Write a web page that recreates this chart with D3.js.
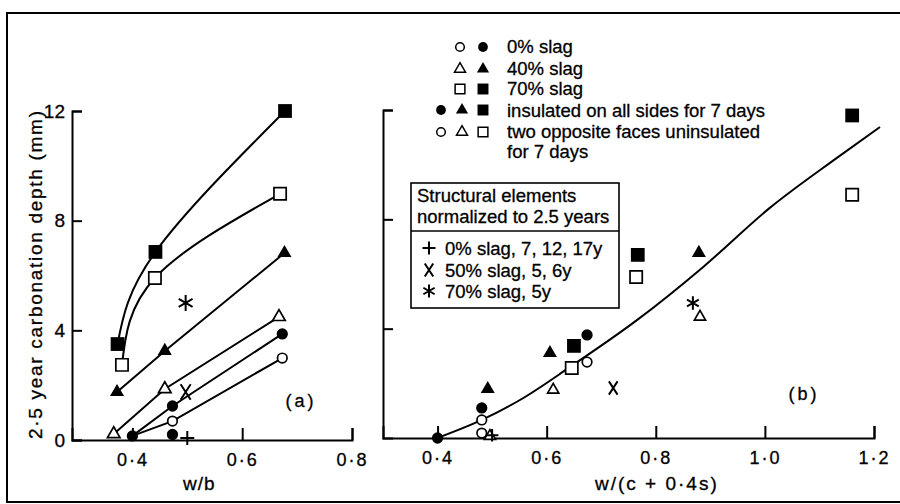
<!DOCTYPE html>
<html>
<head>
<meta charset="utf-8">
<script src="https://cdn.jsdelivr.net/npm/d3@7"></script>
<style>
  body { margin: 0; background: #fff; }
  svg { display: block; }
  text { font-family: "Liberation Sans", Arial, sans-serif; fill: #000; stroke: #000; stroke-width: 0.3px; }
</style>
</head>
<body>
<svg id="chart" width="900" height="504"></svg>
<script>
// ---------- Panel (a): 2.5-year carbonation depth (mm) against w/b ----------
const aSolidSquareX = [0.373, 0.442, 0.678];
const aSolidSquareY = [3.5, 6.86, 12.0];
const aOpenSquareX  = [0.381, 0.441, 0.669];
const aOpenSquareY  = [2.74, 5.91, 8.98];
const aSolidTriX    = [0.372, 0.459, 0.677];
const aSolidTriY    = [1.75, 3.25, 6.82];
const aOpenTriX     = [0.366, 0.459, 0.667];
const aOpenTriY     = [0.22, 1.86, 4.49];
const aSolidCircleX = [0.400, 0.473, 0.473, 0.673];
const aSolidCircleY = [0.15, 1.24, 0.2, 3.87];
const aOpenCircleX  = [0.473, 0.673];
const aOpenCircleY  = [0.69, 2.99];
const aStarX  = [0.497]; const aStarY  = [5.0];
const aCrossX = [0.497]; const aCrossY = [1.75];
const aPlusX  = [0.500]; const aPlusY  = [0.07];
// trend lines drawn through the laboratory series
const aLineOpenCircleX = [0.400, 0.473, 0.673];
const aLineOpenCircleY = [0.15, 0.69, 2.99];
const aLineSolidCircleX = [0.400, 0.473, 0.673];
const aLineSolidCircleY = [0.15, 1.24, 3.87];

// ---------- Panel (b): same depths against w/(c + 0.4s) ----------
const bSolidSquareX = [1.160, 0.767, 0.650];
const bSolidSquareY = [11.8, 6.7, 3.37];
const bOpenSquareX  = [1.160, 0.764, 0.646];
const bOpenSquareY  = [8.9, 5.89, 2.56];
const bSolidTriX    = [0.879, 0.606, 0.492];
const bSolidTriY    = [6.77, 3.11, 1.79];
const bOpenTriX     = [0.881, 0.612, 0.496];
const bOpenTriY     = [4.43, 1.76, 0.07];
const bSolidCircleX = [0.400, 0.481, 0.674];
const bSolidCircleY = [0.0, 1.1, 3.77];
const bOpenCircleX  = [0.481, 0.481, 0.674];
const bOpenCircleY  = [0.66, 0.18, 2.78];
const bStarX  = [0.868]; const bStarY  = [4.94];
const bCrossX = [0.722]; const bCrossY = [1.83];
const bPlusX  = [0.500]; const bPlusY  = [0.1];
// fitted curve
const bFitX = [0.400, 0.481, 0.551, 0.643, 0.766, 0.887, 1.009, 1.132, 1.211];
const bFitY = [0.0, 0.66, 1.39, 2.60, 4.32, 6.26, 8.42, 10.25, 11.38];

// ---------- ticks ----------
const yTicks = [0, 4, 8, 12];
const yTickLabels = ["0", "4", "8", "12"];
const aXTicks = [0.4, 0.6, 0.8];
const aXTickLabels = ["0·4", "0·6", "0·8"];
const bXTicks = [0.4, 0.6, 0.8, 1.0, 1.2];
const bXTickLabels = ["0·4", "0·6", "0·8", "1·0", "1·2"];

// ---------- legend ----------
const legendRows = ["0% slag", "40% slag", "70% slag",
  "insulated on all sides for 7 days", "two opposite faces uninsulated", "for 7 days"];
const boxTitle = ["Structural elements", "normalized to 2.5 years"];
const boxRows = ["0% slag, 7, 12, 17y", "50% slag, 5, 6y", "70% slag, 5y"];

const INK = "#000";
const svg = d3.select("#chart");

// outer frame of the figure
svg.append("rect")
  .attr("x", 7).attr("y", 13).attr("width", 900).attr("height", 489)
  .attr("fill", "none").attr("stroke", INK).attr("stroke-width", 2);

// scales
const xA = d3.scaleLinear([0.29, 0.8], [72, 352]);
const yA = d3.scaleLinear([0, 12], [440, 111]);
const xB = d3.scaleLinear([0.3, 1.2], [383, 874]);
const yB = d3.scaleLinear([0, 12], [438, 110]);

function styleAxis(g, size) {
  g.selectAll("path, line").attr("stroke", INK).attr("stroke-width", 2);
  g.selectAll("text")
    .attr("font-family", '"Liberation Sans", Arial, sans-serif')
    .attr("font-size", size).attr("fill", INK);
}

// axes of panel (a)
const axA = svg.append("g");
axA.append("g").attr("transform", `translate(0,${yA(0)})`)
  .call(d3.axisBottom(xA).tickValues(aXTicks).tickFormat((d, i) => aXTickLabels[i])
    .tickSizeInner(-12).tickSizeOuter(-12).tickPadding(13))
  .call(g => styleAxis(g, 18))
  .call(g => g.selectAll("text").attr("letter-spacing", 2));
axA.append("g").attr("transform", `translate(${xA(0.29)},0)`)
  .call(d3.axisLeft(yA).tickValues(yTicks).tickFormat((d, i) => yTickLabels[i])
    .tickSizeInner(-10).tickSizeOuter(-10).tickPadding(7))
  .call(g => styleAxis(g, 19));

// axes of panel (b)
const axB = svg.append("g");
axB.append("g").attr("transform", `translate(0,${yB(0)})`)
  .call(d3.axisBottom(xB).tickValues(bXTicks).tickFormat((d, i) => bXTickLabels[i])
    .tickSizeInner(-12).tickSizeOuter(-12).tickPadding(13))
  .call(g => styleAxis(g, 18))
  .call(g => g.selectAll("text").attr("letter-spacing", 2));
axB.append("g").attr("transform", `translate(${xB(0.3)},0)`)
  .call(d3.axisLeft(yB).tickValues([4, 8, 12]).tickFormat("")
    .tickSizeInner(-10).tickSizeOuter(-10))
  .call(g => styleAxis(g, 18));

// axis titles
svg.append("text")
  .attr("transform", "translate(42,275) rotate(-90)")
  .attr("text-anchor", "middle").attr("font-size", 19)
  .attr("textLength", 328).attr("lengthAdjust", "spacing")
  .text("2·5 year carbonation depth (mm)");
svg.append("text").attr("x", 183).attr("y", 490)
  .attr("font-size", 19).attr("letter-spacing", 1).text("w/b");
svg.append("text").attr("x", 595).attr("y", 490)
  .attr("font-size", 19).attr("letter-spacing", 2).text("w/(c + 0·4s)");

// panel tags
svg.append("text").attr("x", 301).attr("y", 407).attr("text-anchor", "middle")
  .attr("font-size", 18).attr("letter-spacing", 3).text("(a)");
svg.append("text").attr("x", 804).attr("y", 400).attr("text-anchor", "middle")
  .attr("font-size", 18).attr("letter-spacing", 3).text("(b)");

// ---------- line drawing ----------
function drawLine(xs, ys, sx, sy, curve) {
  svg.append("path")
    .datum(d3.zip(xs, ys))
    .attr("d", d3.line().x(d => sx(d[0])).y(d => sy(d[1])).curve(curve))
    .attr("fill", "none").attr("stroke", INK).attr("stroke-width", 2);
}

drawLine(aSolidSquareX, aSolidSquareY, xA, yA, d3.curveNatural);
drawLine(aOpenSquareX, aOpenSquareY, xA, yA, d3.curveNatural);
drawLine(aSolidTriX, aSolidTriY, xA, yA, d3.curveLinear);
drawLine(aOpenTriX, aOpenTriY, xA, yA, d3.curveLinear);
drawLine(aLineSolidCircleX, aLineSolidCircleY, xA, yA, d3.curveLinear);
drawLine(aLineOpenCircleX, aLineOpenCircleY, xA, yA, d3.curveLinear);
drawLine(bFitX, bFitY, xB, yB, d3.curveMonotoneX);

// ---------- markers ----------
const symbolTypes = { circle: d3.symbolCircle, square: d3.symbolSquare, triangle: d3.symbolTriangle };
const symbolSize = {
  circle: [100, 72], square: [190, 150], triangle: [85, 68]
};

function glyphPath(kind, r) {
  const p = d3.path();
  if (kind === "plus") {
    p.moveTo(-r, 0); p.lineTo(r, 0); p.moveTo(0, -r); p.lineTo(0, r);
  } else if (kind === "cross") {
    p.moveTo(-r * 0.65, -r); p.lineTo(r * 0.65, r);
    p.moveTo(r * 0.65, -r); p.lineTo(-r * 0.65, r);
  } else if (kind === "star") {
    for (let k = 0; k < 3; k++) {
      const a = Math.PI / 2 + k * Math.PI / 3;
      p.moveTo(-r * Math.cos(a), -r * Math.sin(a));
      p.lineTo(r * Math.cos(a), r * Math.sin(a));
    }
  }
  return p.toString();
}

function drawMarks(xs, ys, sx, sy, kind, filled, scale = 1) {
  const sel = svg.append("g").selectAll("path").data(d3.zip(xs, ys)).join("path")
    .attr("transform", d => `translate(${sx(d[0])},${sy(d[1])})`);
  if (symbolTypes[kind]) {
    sel.attr("d", d3.symbol(symbolTypes[kind], symbolSize[kind][filled ? 0 : 1] * scale))
      .attr("fill", filled ? INK : "#fff")
      .attr("stroke", filled ? "none" : INK).attr("stroke-width", 1.7);
  } else {
    const r = kind === "star" ? 8 : 7;
    sel.attr("d", glyphPath(kind, r * scale))
      .attr("fill", "none").attr("stroke", INK).attr("stroke-width", 2);
  }
}

// panel (a)
drawMarks(aSolidSquareX, aSolidSquareY, xA, yA, "square", true);
drawMarks(aOpenSquareX, aOpenSquareY, xA, yA, "square", false);
drawMarks(aSolidTriX, aSolidTriY, xA, yA, "triangle", true);
drawMarks(aOpenTriX, aOpenTriY, xA, yA, "triangle", false);
drawMarks(aSolidCircleX, aSolidCircleY, xA, yA, "circle", true);
drawMarks(aOpenCircleX, aOpenCircleY, xA, yA, "circle", false);
drawMarks(aStarX, aStarY, xA, yA, "star", false);
drawMarks(aCrossX, aCrossY, xA, yA, "cross", false, 1.1);
drawMarks(aPlusX, aPlusY, xA, yA, "plus", false);

// panel (b)
drawMarks(bSolidSquareX, bSolidSquareY, xB, yB, "square", true);
drawMarks(bOpenSquareX, bOpenSquareY, xB, yB, "square", false);
drawMarks(bSolidTriX, bSolidTriY, xB, yB, "triangle", true);
drawMarks(bOpenTriX, bOpenTriY, xB, yB, "triangle", false, 0.8);
drawMarks(bSolidCircleX, bSolidCircleY, xB, yB, "circle", true);
drawMarks(bOpenCircleX, bOpenCircleY, xB, yB, "circle", false);
drawMarks(bStarX, bStarY, xB, yB, "star", false, 0.85);
drawMarks(bCrossX, bCrossY, xB, yB, "cross", false, 0.95);
drawMarks(bPlusX, bPlusY, xB, yB, "plus", false, 0.9);

// ---------- legend (top right) ----------
const leg = svg.append("g");
const legBase = [53, 75, 95, 117, 138, 158];
legendRows.forEach((t, i) => {
  leg.append("text").attr("x", 507).attr("y", legBase[i]).attr("font-size", 18.5).text(t);
});
// legend keys: [x, y, kind, filled]
const legendKeys = [
  [460, 47, "circle", false], [483, 47, "circle", true],
  [460, 69, "triangle", false], [483, 69, "triangle", true],
  [460, 89, "square", false], [483, 89, "square", true],
  [441, 110, "circle", true], [462, 110, "triangle", true], [483, 110, "square", true],
  [441, 132, "circle", false], [462, 132, "triangle", false], [483, 132, "square", false]
];
leg.selectAll("path").data(legendKeys).join("path")
  .attr("transform", d => `translate(${d[0]},${d[1]})`)
  .attr("d", d => d3.symbol(symbolTypes[d[2]],
      { circle: d[3] ? 75 : 58, square: d[3] ? 120 : 95, triangle: d[3] ? 64 : 52 }[d[2]])())
  .attr("fill", d => d[3] ? INK : "#fff")
  .attr("stroke", d => d[3] ? "none" : INK).attr("stroke-width", 1.5);

// ---------- structural elements box ----------
const box = svg.append("g");
box.append("rect").attr("x", 411).attr("y", 183).attr("width", 208).attr("height", 125)
  .attr("fill", "#fff").attr("stroke", INK).attr("stroke-width", 1.6);
box.append("line").attr("x1", 411).attr("x2", 619).attr("y1", 231).attr("y2", 231)
  .attr("stroke", INK).attr("stroke-width", 1.6);
[202, 223].forEach((yb, i) => {
  box.append("text").attr("x", 417).attr("y", yb).attr("font-size", 18.5).text(boxTitle[i]);
});
const boxKinds = ["plus", "cross", "star"];
const boxBase = [255, 277, 298];
boxRows.forEach((t, i) => {
  box.append("text").attr("x", 445).attr("y", boxBase[i]).attr("font-size", 18.5).text(t);
  box.append("path")
    .attr("transform", `translate(429,${boxBase[i] - 7})`)
    .attr("d", glyphPath(boxKinds[i], 6.5))
    .attr("fill", "none").attr("stroke", INK).attr("stroke-width", 2);
});
</script>
</body>
</html>
